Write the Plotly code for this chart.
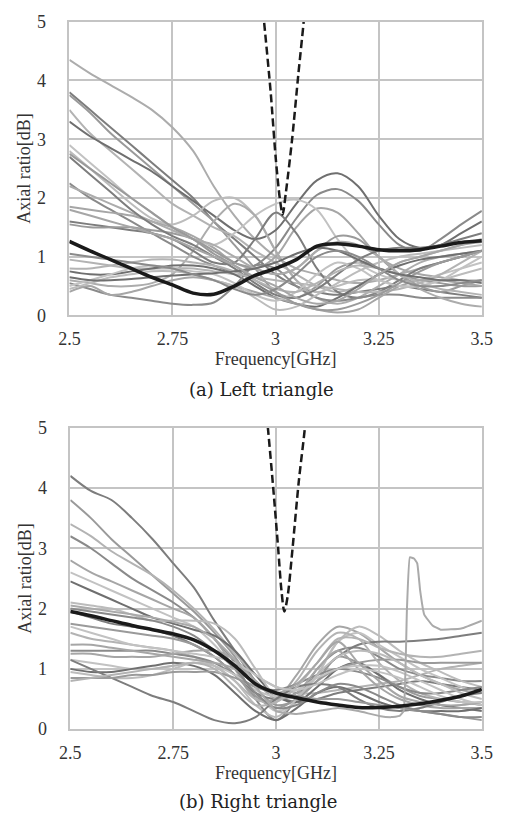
import plotly.graph_objects as go

freq = [2.5, 2.55, 2.6, 2.65, 2.7, 2.75, 2.8, 2.85, 2.9, 2.95, 3.0,
        3.05, 3.1, 3.15, 3.2, 3.25, 3.3, 3.35, 3.4, 3.45, 3.5]

# ---- (a) Left triangle ----
left_black = [1.26, 1.1, 0.95, 0.8, 0.65, 0.52, 0.38, 0.36, 0.5, 0.68, 0.8,
              0.95, 1.18, 1.22, 1.18, 1.12, 1.1, 1.12, 1.18, 1.24, 1.27]
left_lines = [
    [4.35, 4.12, 3.92, 3.72, 3.5, 3.2, 2.8, 2.2, 1.7, 1.3, 1.0, 0.8, 0.7, 0.6, 0.55, 0.6, 0.7, 0.8, 0.9, 1.0, 1.1],
    [3.8, 3.5, 3.2, 2.9, 2.6, 2.3, 2.0, 1.6, 1.3, 1.0, 0.7, 0.5, 0.4, 0.35, 0.4, 0.45, 0.5, 0.45, 0.4, 0.35, 0.3],
    [3.75, 3.45, 3.1, 2.8, 2.5, 2.2, 1.9, 1.6, 1.2, 0.8, 0.4, 0.3, 0.5, 0.8, 0.9, 0.8, 0.7, 0.6, 0.55, 0.5, 0.5],
    [3.5, 3.1, 2.8, 2.5, 2.2, 1.9, 1.7, 1.5, 1.35, 1.1, 0.9, 0.7, 0.5, 0.4, 0.5, 0.7, 0.9, 1.0, 1.1, 1.2, 1.3],
    [3.3, 3.05, 2.85, 2.65, 2.45, 2.2, 1.95, 1.7, 1.45, 1.3, 1.45, 1.9, 2.3, 2.42, 2.2, 1.7, 1.3, 1.15, 1.2, 1.4, 1.6],
    [2.25, 2.0, 1.8, 1.6, 1.4, 1.2, 1.0, 0.85, 0.75, 0.85, 1.15, 1.65, 2.05, 2.15, 1.95, 1.55, 1.2, 1.1, 1.3, 1.55, 1.78],
    [1.85, 1.8, 1.75, 1.7, 1.6, 1.5, 1.35, 1.15, 0.9, 0.8, 1.0, 1.5, 1.82, 1.75, 1.4, 1.0, 0.8, 0.7, 0.65, 0.6, 0.6],
    [2.9, 2.6, 2.3, 2.0, 1.75, 1.5, 1.3, 1.2, 1.4, 1.7, 1.9, 1.97, 1.8, 1.3, 0.9, 0.7, 0.6, 0.6, 0.7, 0.8, 0.9],
    [2.8, 2.5, 2.2, 1.9, 1.65, 1.55, 1.7, 1.95, 2.0, 1.7, 1.1, 0.6, 0.4, 0.5, 0.6, 0.6, 0.5, 0.5, 0.6, 0.7, 0.8],
    [0.6, 0.55, 0.5, 0.5, 0.55, 0.7, 1.1, 1.6, 1.9, 1.7, 1.1, 0.6, 0.3, 0.2, 0.3, 0.5, 0.7, 0.9, 1.0, 1.05, 1.1],
    [1.6, 1.55, 1.5, 1.45, 1.4, 1.3, 1.1, 0.9, 0.9, 1.3, 1.75, 1.4, 0.8, 0.4, 0.3, 0.4, 0.6, 0.8, 0.9, 1.0, 1.1],
    [1.55, 1.5, 1.5, 1.5, 1.45, 1.4, 1.3, 1.1, 0.9, 0.8, 0.7, 0.8, 1.1, 1.35, 1.3, 1.0, 0.7, 0.5, 0.4, 0.5, 0.6],
    [0.95, 0.9, 0.85, 0.8, 0.8, 0.8, 0.8, 0.75, 0.7, 0.65, 0.6, 0.55, 0.5, 0.45, 0.4, 0.4, 0.45, 0.55, 0.7, 0.9, 1.1],
    [0.75, 0.7, 0.7, 0.75, 0.8, 0.85, 0.85, 0.8, 0.7, 0.5, 0.3, 0.2, 0.15, 0.3, 0.5, 0.7, 0.85, 0.95, 1.0, 1.05, 1.1],
    [0.55, 0.45, 0.35, 0.3, 0.25, 0.2, 0.18, 0.22, 0.5, 0.85, 0.8, 0.5, 0.3, 0.25, 0.3, 0.35, 0.35, 0.3, 0.3, 0.3, 0.3],
    [0.4, 0.5, 0.35, 0.4, 0.5, 0.6, 0.65, 0.6, 0.5, 0.4, 0.3, 0.2, 0.1, 0.05, 0.1, 0.3, 0.5, 0.6, 0.6, 0.55, 0.5],
    [0.5, 0.6, 0.7, 0.8, 0.85, 0.8, 0.75, 0.7, 0.55, 0.35, 0.25, 0.4, 0.7, 0.9, 0.8, 0.6, 0.5, 0.5, 0.6, 0.8, 1.0],
    [0.45, 0.55, 0.65, 0.7, 0.75, 0.75, 0.7, 0.6, 0.5, 0.3, 0.1, 0.15, 0.35, 0.55, 0.75, 0.9, 1.0, 1.05, 1.1, 1.15, 1.2],
    [2.2, 2.05, 1.9, 1.75, 1.6, 1.45, 1.3, 1.2, 1.0, 0.8, 0.7, 0.8, 1.1, 1.25, 1.2, 1.0, 0.7, 0.45, 0.3, 0.2, 0.15],
    [2.7, 2.4, 2.1, 1.8, 1.55, 1.35, 1.2, 1.0, 0.8, 0.55, 0.35, 0.3, 0.45, 0.7, 0.95, 1.1, 1.15, 1.15, 1.2, 1.3, 1.4],
    [2.75, 2.5, 2.25, 2.0, 1.75, 1.5, 1.3, 1.05, 0.85, 0.6, 0.4, 0.2, 0.1, 0.1, 0.2, 0.35, 0.55, 0.75, 0.9, 1.0, 1.1],
    [0.8, 0.8, 0.85, 0.9, 0.95, 0.95, 0.9, 0.85, 0.75, 0.6, 0.45, 0.4, 0.55, 0.75, 0.85, 0.8, 0.7, 0.55, 0.45, 0.4, 0.35],
    [0.65, 0.6, 0.6, 0.62, 0.65, 0.68, 0.7, 0.72, 0.75, 0.8, 0.9, 1.05, 1.15, 1.1, 0.95, 0.8, 0.7, 0.65, 0.6, 0.6, 0.55],
    [1.05, 1.0, 0.95, 0.9, 0.85, 0.8, 0.7, 0.6, 0.45, 0.35, 0.45, 0.7, 1.0, 1.1, 1.0, 0.8, 0.6, 0.5, 0.5, 0.55, 0.6],
    [1.8, 1.7, 1.6, 1.5, 1.4, 1.3, 1.15, 1.0, 0.85, 0.65, 0.5, 0.3, 0.2, 0.25, 0.45, 0.7, 0.9, 1.0, 1.1, 1.2, 1.25],
]
left_dash_x = [2.955, 2.972, 2.988, 3.0, 3.01, 3.017, 3.025, 3.04, 3.055, 3.068, 3.08]
left_dash_y = [6.2, 5.0, 3.8, 2.7, 2.0, 1.72, 2.1, 3.0, 4.1, 5.0, 6.0]

# ---- (b) Right triangle ----
right_black = [1.95, 1.88, 1.8, 1.72, 1.65, 1.58, 1.48, 1.3, 1.05, 0.75, 0.6,
               0.52, 0.45, 0.4, 0.36, 0.36, 0.38, 0.42, 0.48, 0.55, 0.66]
right_lines = [
    [4.2, 3.95, 3.8, 3.5, 3.15, 2.75, 2.35, 1.8, 1.3, 0.8, 0.55, 0.45, 0.5, 0.6, 0.65, 0.7, 0.75, 0.8, 0.75, 0.7, 0.65],
    [3.8, 3.5, 3.15, 2.85, 2.55, 2.25, 1.95, 1.6, 1.2, 0.7, 0.4, 0.5, 0.8, 1.2, 1.1, 0.9, 0.7, 0.55, 0.5, 0.45, 0.4],
    [3.4, 3.2, 2.95, 2.75, 2.55, 2.3, 2.0, 1.65, 1.25, 0.9, 0.7, 0.6, 0.6, 0.65, 0.7, 0.75, 0.8, 0.9, 1.0, 1.05, 1.1],
    [3.2, 3.0, 2.75, 2.5, 2.3, 2.1, 1.85, 1.5, 1.1, 0.5, 0.15, 0.5, 1.0, 1.3, 1.35, 1.2, 1.0, 0.9, 0.85, 0.8, 0.8],
    [2.8, 2.6, 2.45, 2.3, 2.15, 2.0, 1.85, 1.5, 1.0, 0.5, 0.5, 0.9, 1.4, 1.7, 1.6, 1.35, 1.1, 0.9, 0.75, 0.65, 0.6],
    [2.6, 2.45, 2.3, 2.15, 2.0, 1.85, 1.7, 1.4, 1.0, 0.6, 0.3, 0.45, 0.9, 1.45, 1.6, 1.4, 1.2, 1.0, 0.85, 0.7, 0.6],
    [2.45, 2.3, 2.15, 2.0, 1.85, 1.75, 1.65, 1.55, 1.3, 0.9, 0.55, 0.45, 0.7, 1.0, 1.1, 0.9, 0.65, 0.5, 0.4, 0.35, 0.3],
    [2.1, 2.05, 2.0, 1.9, 1.8, 1.8, 1.8, 1.75, 1.5, 1.0, 0.55, 0.55, 0.9, 1.45, 1.7, 1.55, 1.3, 1.1, 0.95, 0.8, 0.7],
    [1.95, 1.85, 1.75, 1.7, 1.65, 1.55, 1.4, 1.2, 0.9, 0.6, 0.5, 0.6, 0.9, 1.2, 1.4, 1.45, 1.45, 1.47, 1.5, 1.55, 1.6],
    [1.75, 1.7, 1.65, 1.6, 1.55, 1.5, 1.4, 1.2, 0.9, 0.55, 0.35, 0.5, 0.8, 1.0, 1.1, 1.15, 1.15, 1.1, 1.1, 1.1, 1.1],
    [1.6, 1.5, 1.45, 1.4, 1.35, 1.3, 1.2, 1.05, 0.8, 0.5, 0.45, 0.8, 1.3, 1.6, 1.5, 1.1, 0.8, 0.6, 0.5, 0.45, 0.4],
    [1.3, 1.3, 1.3, 1.3, 1.3, 1.25, 1.2, 1.1, 0.9, 0.7, 0.65, 0.75, 0.9, 1.0, 0.95, 0.85, 0.7, 0.6, 0.6, 0.65, 0.7],
    [1.25, 1.25, 1.2, 1.2, 1.2, 1.25, 1.3, 1.3, 1.15, 0.8, 0.5, 0.6, 1.0, 1.3, 1.0, 0.7, 0.5, 0.4, 0.35, 0.35, 0.35],
    [1.15, 1.1, 1.05, 1.0, 1.0, 1.05, 1.1, 1.05, 0.9, 0.65, 0.55, 0.65, 0.85, 1.0, 1.05, 1.05, 0.95, 0.8, 0.65, 0.5, 0.4],
    [1.0, 0.95, 0.95, 1.0, 1.05, 1.1, 1.05, 0.9, 0.6, 0.3, 0.15, 0.35, 0.6, 0.7, 0.6, 0.45, 0.35, 0.3, 0.3, 0.3, 0.35],
    [0.95, 0.9, 0.85, 0.85, 0.9, 1.0, 1.1, 1.05, 0.8, 0.4, 0.2, 0.5, 0.9, 1.2, 1.3, 1.25, 1.1, 0.9, 0.75, 0.6, 0.5],
    [1.15, 1.0, 0.85, 0.7, 0.55, 0.45, 0.3, 0.15, 0.1, 0.2, 0.5, 0.7, 0.75, 0.7, 0.5, 0.35, 0.3, 0.35, 0.45, 0.55, 0.6],
    [0.85, 0.85, 0.85, 0.9, 0.9, 0.95, 0.95, 0.95, 0.85, 0.7, 0.6, 0.55, 0.5, 0.5, 0.45, 0.4, 0.35, 0.3, 0.25, 0.2, 0.15],
    [0.8, 0.85, 0.9, 0.95, 1.0, 1.05, 1.1, 1.0, 0.7, 0.4, 0.45, 0.7, 1.1, 1.5, 1.5, 1.35, 1.25, 1.2, 1.2, 1.25, 1.3],
    [2.0, 1.95, 1.9, 1.85, 1.8, 1.7, 1.55, 1.3, 1.0, 0.6, 0.35, 0.4, 0.6, 0.75, 0.7, 0.55, 0.4, 0.3, 0.25, 0.2, 0.2],
    [1.4, 1.4, 1.35, 1.3, 1.25, 1.2, 1.15, 1.1, 1.0, 0.75, 0.6, 0.75, 1.1, 1.45, 1.1, 0.8, 0.55, 0.45, 0.4, 0.4, 0.45],
    [1.7, 1.6, 1.5, 1.4, 1.35, 1.3, 1.25, 1.2, 1.1, 0.9, 0.7, 0.65, 0.75, 0.9, 1.0, 0.95, 0.85, 0.7, 0.55, 0.45, 0.45],
]
spike_x = [2.5, 2.6, 2.7, 2.8, 2.85, 2.9, 2.95, 3.0, 3.05, 3.1, 3.15, 3.2, 3.25, 3.28, 3.3, 3.31,
           3.318, 3.325, 3.335, 3.343, 3.35, 3.36, 3.38, 3.4, 3.45, 3.5]
spike_y = [2.05, 1.95, 1.85, 1.7, 1.5, 1.15, 0.7, 0.3, 0.25, 0.3, 0.35, 0.3, 0.22, 0.2, 0.22, 0.3,
           2.0, 2.85, 2.83, 2.75, 2.3, 1.9, 1.72, 1.65, 1.67, 1.8]
right_dash_x = [2.965, 2.98, 2.993, 3.005, 3.013, 3.02, 3.028, 3.04, 3.055, 3.07, 3.08]
right_dash_y = [6.0, 5.0, 4.0, 3.0, 2.3, 1.95, 2.2, 3.0, 4.1, 5.0, 5.8]

x_ticks = [2.5, 2.75, 3, 3.25, 3.5]
x_ticktext = ["2.5", "2.75", "3", "3.25", "3.5"]
y_ticks = [0, 1, 2, 3, 4, 5]

left_grays = ["#acacac", "#7d7d7d", "#9a9a9a", "#b3b3b3", "#6f6f6f", "#8a8a8a", "#a6a6a6", "#c2c2c2", "#bcbcbc"]
right_grays = ["#7d7d7d", "#9a9a9a", "#b3b3b3", "#8a8a8a", "#a6a6a6", "#c2c2c2", "#6f6f6f", "#bcbcbc"]

fig = go.Figure()

def add_panel(lines, black, dx, dy, xa, ya, grays, extra=None):
    for i, ys in enumerate(lines):
        fig.add_trace(go.Scatter(x=freq, y=ys, mode="lines", xaxis=xa, yaxis=ya,
                                 line=dict(color=grays[i % len(grays)], width=2, shape="spline", smoothing=0.9),
                                 showlegend=False, hoverinfo="skip"))
    if extra is not None:
        fig.add_trace(go.Scatter(x=extra[0], y=extra[1], mode="lines", xaxis=xa, yaxis=ya,
                                 line=dict(color="#aaaaaa", width=2, shape="spline", smoothing=0.3),
                                 showlegend=False, hoverinfo="skip"))
    fig.add_trace(go.Scatter(x=freq, y=black, mode="lines", xaxis=xa, yaxis=ya,
                             line=dict(color="#1a1a1a", width=3.5, shape="spline", smoothing=0.9),
                             showlegend=False, hoverinfo="skip"))
    fig.add_trace(go.Scatter(x=dx, y=dy, mode="lines", xaxis=xa, yaxis=ya,
                             line=dict(color="#1a1a1a", width=2.5, dash="8px,4px", shape="spline", smoothing=0.8),
                             showlegend=False, hoverinfo="skip"))

add_panel(left_lines, left_black, left_dash_x, left_dash_y, "x", "y", left_grays)
add_panel(right_lines, right_black, right_dash_x, right_dash_y, "x2", "y2", right_grays, extra=(spike_x, spike_y))

serif = "Liberation Serif"
tickfont = dict(family=serif, size=18, color="#333333")
titlefont = dict(family=serif, size=18, color="#333333")
xcommon = dict(range=[2.5, 3.5], tickvals=x_ticks, ticktext=x_ticktext,
               showgrid=True, gridcolor="#c4c4c4", gridwidth=1.5, showline=True, linecolor="#c4c4c4",
               linewidth=1.5, mirror=True, zeroline=False, ticks="", tickfont=tickfont, ticklabelstandoff=6,
               title=dict(text="Frequency[GHz]", font=titlefont, standoff=2))
ycommon = dict(range=[0, 5], tickvals=y_ticks, showgrid=True, gridcolor="#c4c4c4", gridwidth=1.5,
               showline=True, linecolor="#c4c4c4", linewidth=1.5, mirror=True, zeroline=False, ticks="",
               tickfont=tickfont, ticklabelstandoff=18,
               title=dict(text="Axial ratio[dB]", font=titlefont, standoff=2))

fig.update_layout(
    width=512, height=827, margin=dict(l=0, r=0, t=0, b=0),
    paper_bgcolor="white", plot_bgcolor="white",
    xaxis=dict(domain=[61/512, 492/512], anchor="y", **xcommon),
    yaxis=dict(domain=[(827-313)/827, (827-12)/827], anchor="x", **ycommon),
    xaxis2=dict(domain=[62/512, 492/512], anchor="y2", **xcommon),
    yaxis2=dict(domain=[(827-737)/827, (827-428)/827], anchor="x2", **ycommon),
    annotations=[
        dict(text="(a) Left triangle", x=262/512, y=(827-389)/827, xref="paper", yref="paper",
             showarrow=False, font=dict(family="DejaVu Serif", size=18, color="#222222"), yanchor="middle"),
        dict(text="(b) Right triangle", x=259/512, y=(827-811)/827, xref="paper", yref="paper",
             showarrow=False, font=dict(family="DejaVu Serif", size=18, color="#222222"), yanchor="middle"),
    ],
)

fig.write_html("out.html")
